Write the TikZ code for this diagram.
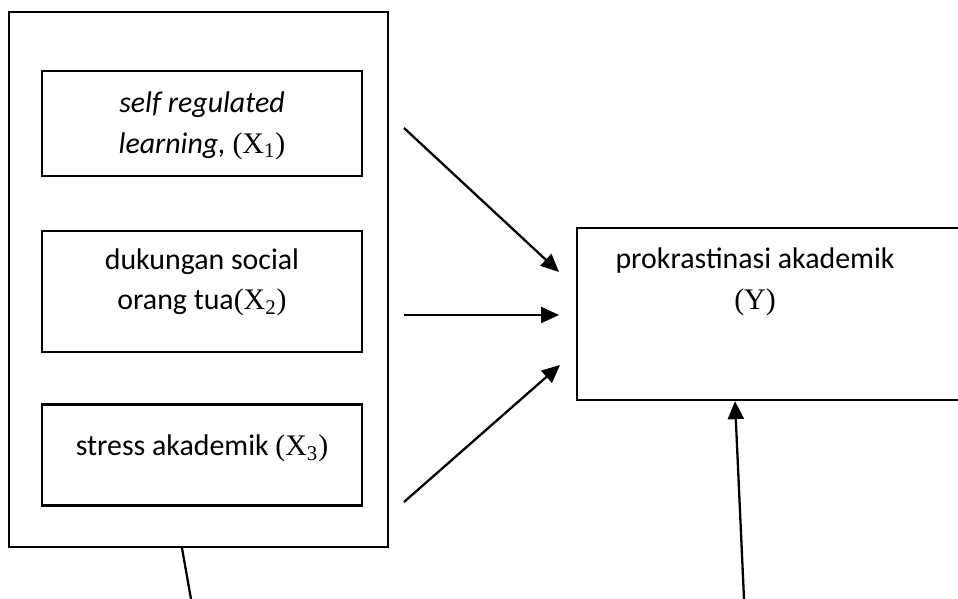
\documentclass[tikz,border=0pt]{standalone}
\usepackage{fontspec}
\setmainfont{Carlito}
\newfontfamily\tms{Liberation Serif}
\usepackage{tikz}
\usetikzlibrary{arrows.meta,positioning}

\begin{document}
\begin{tikzpicture}[
    varbox/.style={rectangle, draw, line width=1.3pt, minimum width=6.4cm, inner sep=0pt},
    boxtext/.style={align=center, inner sep=0pt, font=\fontsize{17}{23}\selectfont},
    effect/.style={-{Triangle[length=0.36cm, width=0.32cm]}, line width=1.3pt},
    plain/.style={line width=1.3pt}
]
    \useasboundingbox (0,0) rectangle (19.16,11.98);
    \clip (0,0) rectangle (19.16,11.98);

    % Independent variables
    \node[rectangle, draw, line width=1.3pt, minimum width=7.58cm, minimum height=10.7cm] (frame) at (3.97,6.39) {};
    \node[varbox, minimum height=2.1cm] (x1) at (4.04,9.51) {};
    \node[varbox, minimum height=2.42cm, below=1.06cm of x1] (x2) {};
    \node[varbox, minimum height=2.02cm, below=1.0cm of x2] (x3) {};

    \node[boxtext, below=0.44cm of x1.north] (x1txt) {\textit{self regulated}\\\textit{learning,} {\tms(X\textsubscript{1})}};
    \node[boxtext, below=0.36cm of x2.north] (x2txt) {dukungan social\\orang tua{\tms(X\textsubscript{2})}};
    \node[boxtext, below=0.62cm of x3.north] (x3txt) {stress akademik {\tms(X\textsubscript{3})}};

    % Dependent variable
    \node[rectangle, draw, line width=1.3pt, minimum width=8.46cm, minimum height=3.44cm] (ybox) at (15.77,5.70) {};
    \node[boxtext, below=0.42cm of ybox.north, xshift=-0.67cm] (ytxt) {prokrastinasi akademik\\{\tms(Y)}};

    % Arrow ends
    \coordinate (s1) at (8.08,9.42);
    \coordinate (e1) at (11.18,6.54);
    \coordinate (s2) at (8.08,5.68);
    \coordinate (e2) at (11.18,5.68);
    \coordinate (s3) at (8.08,1.94);
    \coordinate (e3) at (11.20,4.68);
    \coordinate (framefoot) at (3.82,0);
    \coordinate (yfoot) at (14.88,0);

    % Relationships
    \draw[effect] (s1) -- (e1);
    \draw[effect] (s2) -- (e2);
    \draw[effect] (s3) -- (e3);
    \draw[plain] ([xshift=-0.33cm]frame.south) -- (framefoot);
    \draw[effect] (yfoot) -- ([xshift=-1.07cm]ybox.south);
\end{tikzpicture}
\end{document}
